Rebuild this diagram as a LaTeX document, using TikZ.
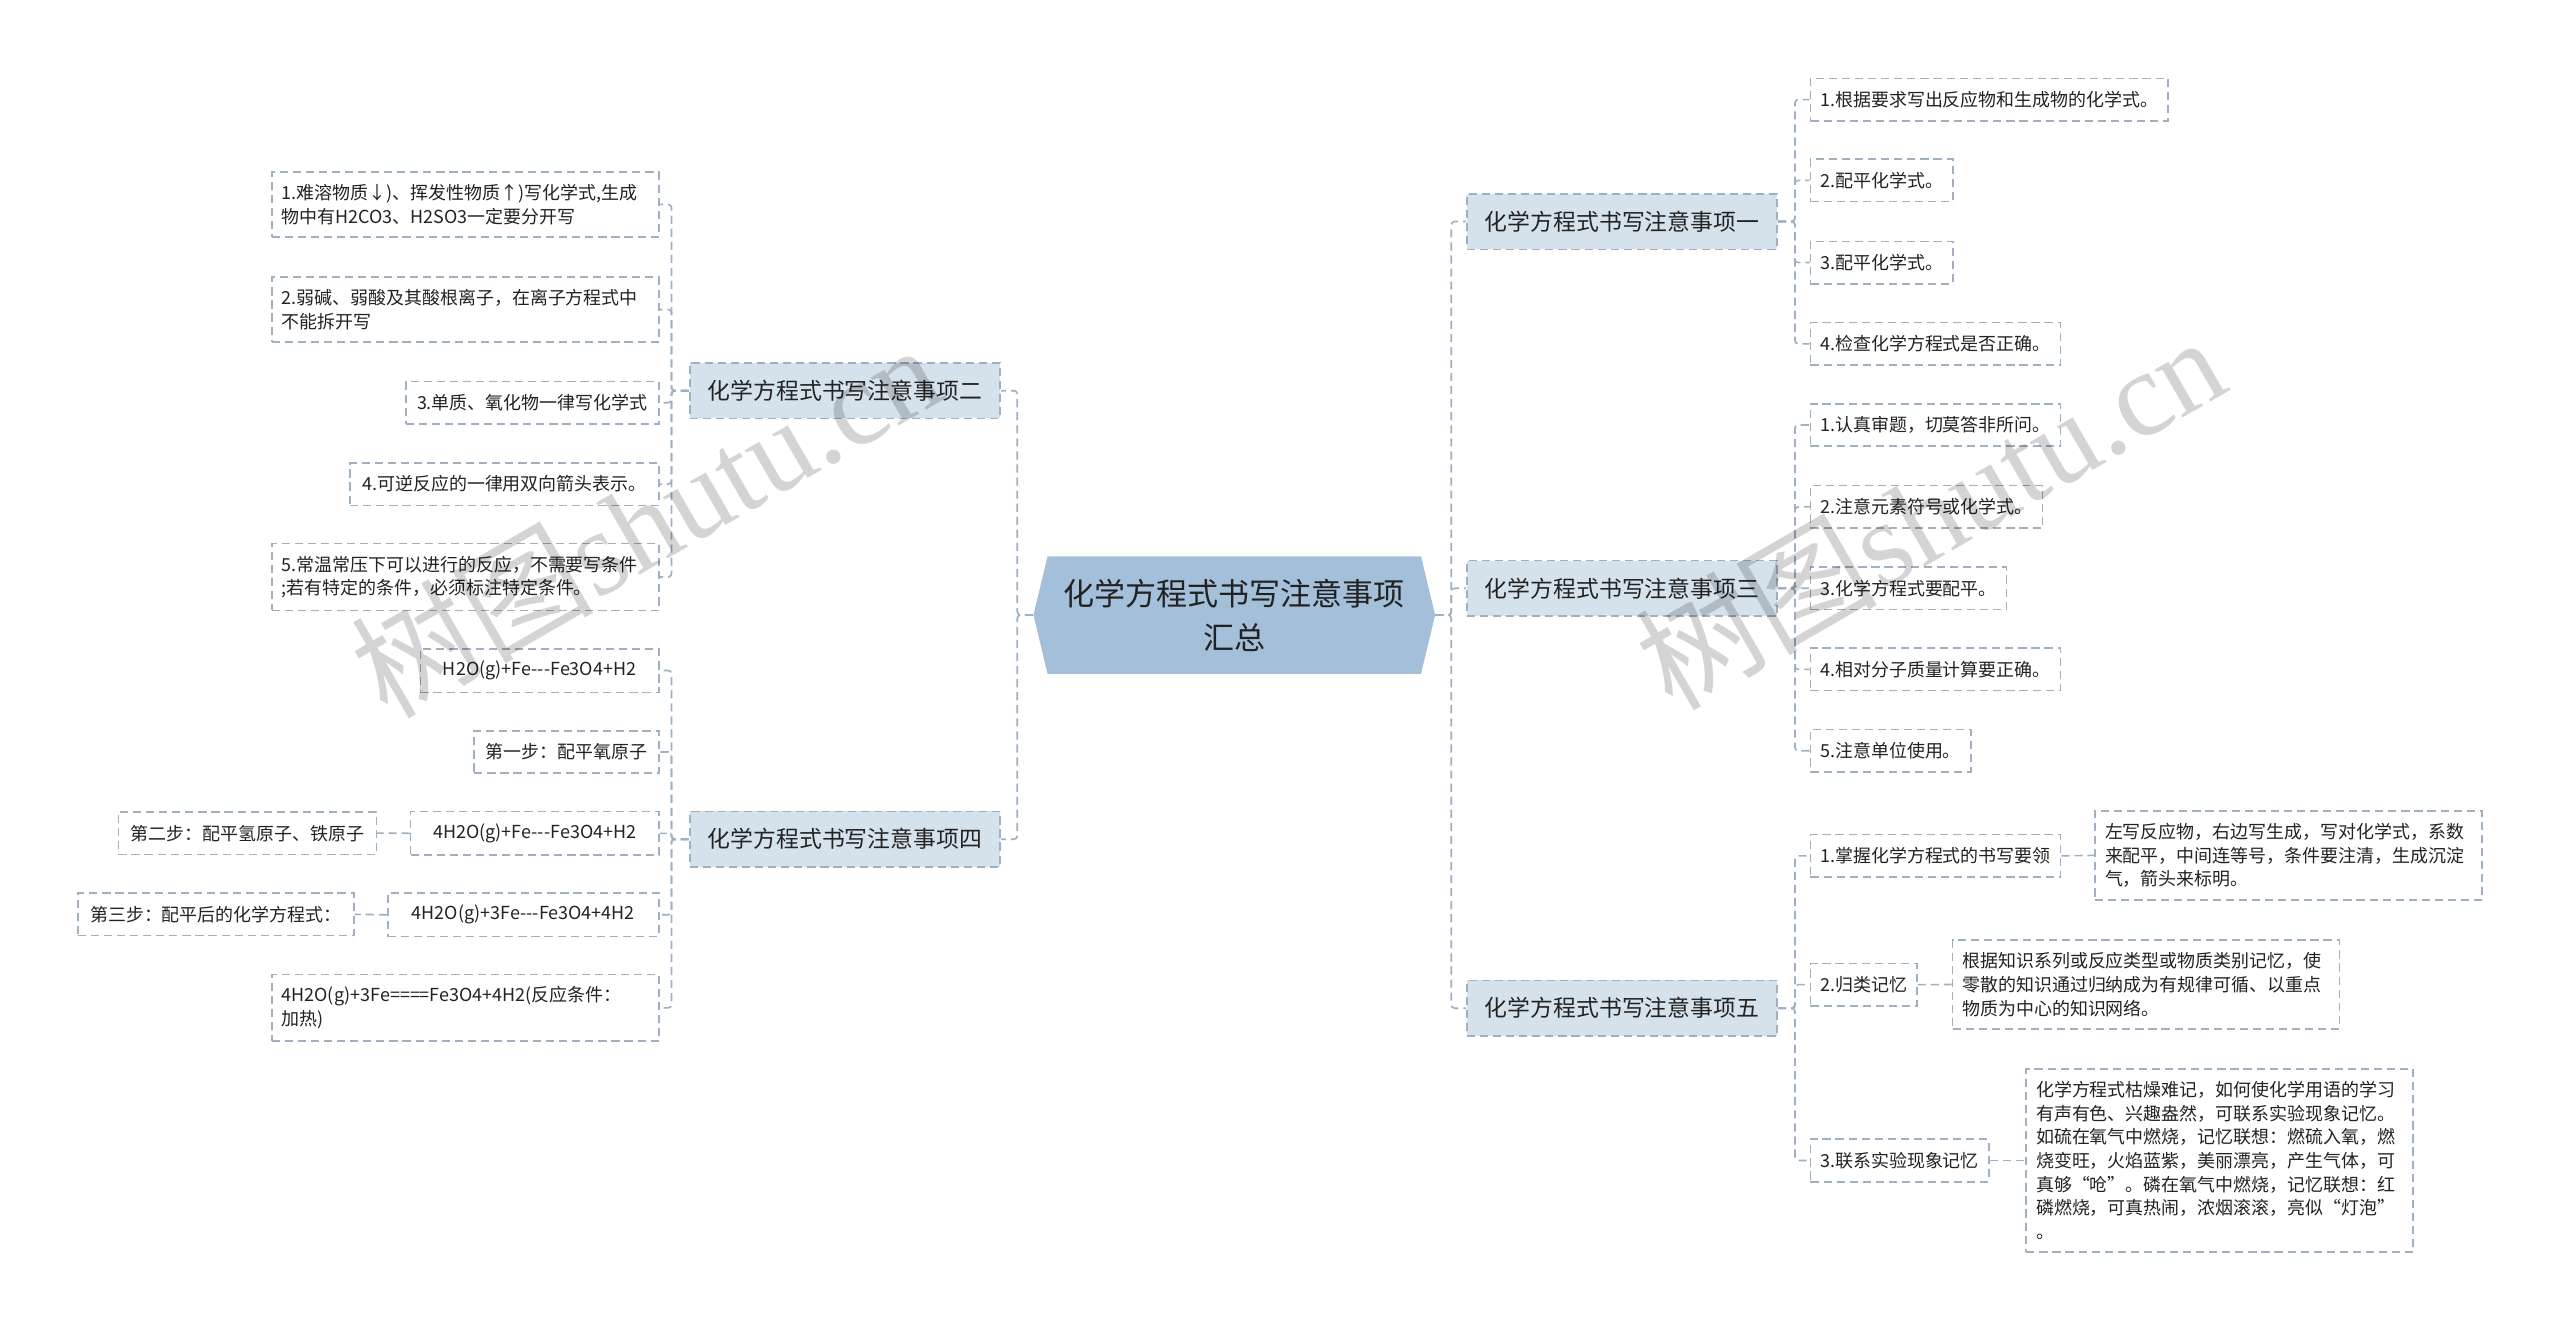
\documentclass[tikz,border=0pt]{standalone}
\usepackage{fontspec}
\setmainfont{Noto Sans CJK SC}
\newfontfamily\wmfont{Liberation Serif}
\usetikzlibrary{shapes.symbols}
\definecolor{steel}{RGB}{163,191,217}
\definecolor{mist}{RGB}{214,226,235}
\definecolor{rim}{RGB}{158,176,194}
\definecolor{ink}{RGB}{34,34,34}
\tikzset{
  root/.style={shape=signal,signal to=east and west,signal pointer angle=153,fill=steel,text=ink,
    minimum width=246pt,minimum height=72pt,align=center,font=\fontsize{19}{27}\selectfont},
  branch/.style={fill=mist,draw=rim,line width=1pt,dash pattern=on 5pt off 3pt,
    minimum width=190pt,minimum height=34pt,text=ink,font=\fontsize{14}{17}\selectfont},
  leaf/.style={fill=white,draw=rim,line width=1pt,dash pattern=on 5pt off 3pt,
    inner xsep=6pt,inner ysep=7.5pt,minimum height=26pt,align=left,text=ink,
    font=\fontsize{11}{14.5}\selectfont},
  wide/.style={leaf,text width=#1},
  wide/.default=225pt,
  link/.style={draw=rim,line width=1pt,dash pattern=on 5pt off 3pt,rounded corners=2pt},
  wmark/.style={text=black,text opacity=0.17,rotate=30,font=\fontsize{74}{74}\selectfont},
}
\begin{document}
\begin{tikzpicture}[x=1pt,y=-1pt]
\fill[white] (0,0) rectangle (1568,815);
\useasboundingbox (0,0) rectangle (1568,815);

% centre
\node[root] (root) at (756,376.7) {化学方程式书写注意事项\\汇总};

% topics
\node[branch,anchor=west] (b1) at (898,135.7) {化学方程式书写注意事项一};
\node[branch,anchor=east] (b2) at (613,239.3) {化学方程式书写注意事项二};
\node[branch,anchor=west] (b3) at (898,360.3) {化学方程式书写注意事项三};
\node[branch,anchor=east] (b4) at (613,514) {化学方程式书写注意事项四};
\node[branch,anchor=west] (b5) at (898,617.5) {化学方程式书写注意事项五};

% topic one
\node[leaf,anchor=west] (c11) at (1108.4,61) {1.根据要求写出反应物和生成物的化学式。};
\node[leaf,anchor=west] (c12) at (1108.4,110.5) {2.配平化学式。};
\node[leaf,anchor=west] (c13) at (1108.4,160.8) {3.配平化学式。};
\node[leaf,anchor=west] (c14) at (1108.4,210.6) {4.检查化学方程式是否正确。};

% topic two
\node[wide,anchor=east] (c21) at (404,125.2) {1.难溶物质↓)、挥发性物质↑)写化学式,生成\\物中有H2CO3、H2SO3一定要分开写};
\node[wide,anchor=east] (c22) at (404,189.6) {2.弱碱、弱酸及其酸根离子，在离子方程式中\\不能拆开写};
\node[leaf,anchor=east,minimum width=155pt] (c23) at (404,246.7) {3.单质、氧化物一律写化学式};
\node[leaf,anchor=east,minimum width=189pt] (c24) at (404,296.5) {4.可逆反应的一律用双向箭头表示。};
\node[wide,anchor=east] (c25) at (404,353.4) {5.常温常压下可以进行的反应，不需要写条件\\;若有特定的条件，必须标注特定条件。};

% topic three
\node[leaf,anchor=west] (c31) at (1108.4,260.3) {1.认真审题，切莫答非所问。};
\node[leaf,anchor=west] (c32) at (1108.4,310.4) {2.注意元素符号或化学式。};
\node[leaf,anchor=west] (c33) at (1108.4,360.3) {3.化学方程式要配平。};
\node[leaf,anchor=west] (c34) at (1108.4,410) {4.相对分子质量计算要正确。};
\node[leaf,anchor=west] (c35) at (1108.4,459.8) {5.注意单位使用。};

% topic four
\node[leaf,anchor=east,minimum width=146pt] (c41) at (404,410.7) {H2O(g)+Fe{-}{-}{-}Fe3O4+H2};
\node[leaf,anchor=east,minimum width=113pt] (c42) at (404,460.6) {第一步：配平氧原子};
\node[leaf,anchor=east,minimum width=152pt] (c43) at (404,510.4) {4H2O(g)+Fe{-}{-}{-}Fe3O4+H2};
\node[leaf,anchor=east,minimum width=166pt] (c44) at (404,560.3) {4H2O(g)+3Fe{-}{-}{-}Fe3O4+4H2};
\node[wide,anchor=east] (c45) at (404,617.3) {4H2O(g)+3Fe====Fe3O4+4H2(反应条件：\\加热)};
\node[leaf,anchor=east,minimum width=158pt] (g43) at (231,510.3) {第二步：配平氢原子、铁原子};
\node[leaf,anchor=east,minimum width=169pt] (g44) at (217.2,560) {第三步：配平后的化学方程式：};

% topic five
\node[leaf,anchor=west] (c51) at (1108.4,524.2) {1.掌握化学方程式的书写要领};
\node[leaf,anchor=west] (c52) at (1108.4,603.1) {2.归类记忆};
\node[leaf,anchor=west] (c53) at (1108.4,710.8) {3.联系实验现象记忆};
\node[wide,anchor=west] (g51) at (1282.8,523.9) {左写反应物，右边写生成，写对化学式，系数\\来配平，中间连等号，条件要注清，生成沉淀\\气，箭头来标明。};
\node[wide,anchor=west] (g52) at (1195.4,603) {根据知识系列或反应类型或物质类别记忆，使\\零散的知识通过归纳成为有规律可循、以重点\\物质为中心的知识网络。};
\node[wide,anchor=west] (g53) at (1240.6,710.8) {化学方程式枯燥难记，如何使化学用语的学习\\有声有色、兴趣盎然，可联系实验现象记忆。\\如硫在氧气中燃烧，记忆联想：燃硫入氧，燃\\烧变旺，火焰蓝紫，美丽漂亮，产生气体，可\\真够“呛”。磷在氧气中燃烧，记忆联想：红\\磷燃烧，可真热闹，浓烟滚滚，亮似“灯泡”\\。};

% links
\foreach \b in {b1,b3,b5} \draw[link] (root.east) -- ++(9.7,0) |- (\b.west);
\foreach \b in {b2,b4} \draw[link] (root.west) -- ++(-9.7,0) |- (\b.east);
\foreach \c in {c11,c12,c13,c14} \draw[link] (b1.east) -- ++(10.4,0) |- (\c.west);
\foreach \c in {c21,c22,c23,c24,c25} \draw[link] (b2.west) -- ++(-10.7,0) |- (\c.east);
\foreach \c in {c31,c32,c33,c34,c35} \draw[link] (b3.east) -- ++(10.4,0) |- (\c.west);
\foreach \c in {c41,c42,c43,c44,c45} \draw[link] (b4.west) -- ++(-10.7,0) |- (\c.east);
\foreach \c in {c51,c52,c53} \draw[link] (b5.east) -- ++(10.4,0) |- (\c.west);
\draw[link] (c43.west) -- (g43.east);
\draw[link] (c44.west) -- (g44.east);
\draw[link] (c51.east) -- (g51.west);
\draw[link] (c52.east) -- (g52.west);
\draw[link] (c53.east) -- (g53.west);

% watermark
\node[wmark] (wm1) at (395,318) {树图{\wmfont shutu.cn}};
\node[wmark] (wm2) at (1182,313) {树图{\wmfont shutu.cn}};
\end{tikzpicture}
\end{document}
